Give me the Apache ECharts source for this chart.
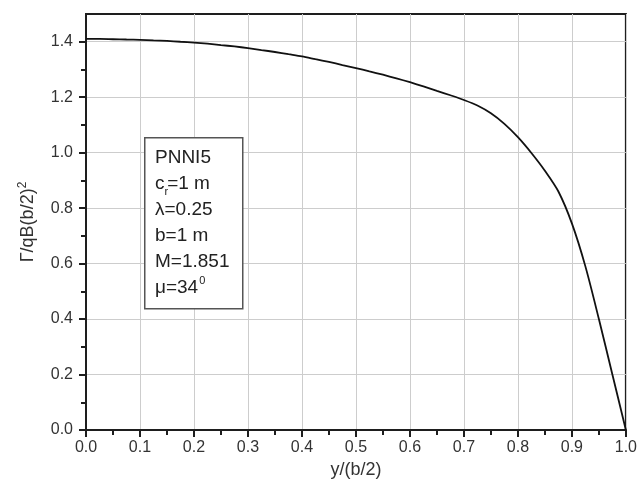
<!DOCTYPE html>
<html>
<head>
<meta charset="utf-8">
<script src="https://cdn.jsdelivr.net/npm/echarts@6/dist/echarts.min.js"></script>
<style>
  html, body { margin: 0; padding: 0; background: #fff; }
  #chart { width: 640px; height: 494px; }
</style>
</head>
<body>
<div id="chart"></div>
<script>
// Spanwise station y/(b/2)
const spanPos = [
  0, 0.025, 0.05, 0.075, 0.1, 0.125, 0.15, 0.175, 0.2, 0.225,
  0.25, 0.275, 0.3, 0.325, 0.35, 0.375, 0.4, 0.425, 0.45, 0.475,
  0.5, 0.525, 0.55, 0.575, 0.6, 0.625, 0.65, 0.675, 0.7, 0.725,
  0.75, 0.775, 0.8, 0.825, 0.85, 0.875, 0.9, 0.925, 0.95, 0.975, 1.0
];
// Non-dimensional circulation Γ/qB(b/2)^2
const circulation = [
  1.410, 1.410, 1.409, 1.408, 1.407, 1.405, 1.403, 1.400, 1.397, 1.393,
  1.388, 1.383, 1.377, 1.370, 1.363, 1.355, 1.347, 1.337, 1.327, 1.316,
  1.305, 1.293, 1.281, 1.268, 1.254, 1.239, 1.223, 1.207, 1.190, 1.170,
  1.142, 1.104, 1.056, 0.999, 0.935, 0.860, 0.745, 0.590, 0.400, 0.200, 0.0
];

const xMajorTicks = [0, 0.1, 0.2, 0.3, 0.4, 0.5, 0.6, 0.7, 0.8, 0.9, 1.0];
const xMinorTicks = [0.05, 0.15, 0.25, 0.35, 0.45, 0.55, 0.65, 0.75, 0.85, 0.95];
const yMajorTicks = [0, 0.2, 0.4, 0.6, 0.8, 1.0, 1.2, 1.4];
const yMinorTicks = [0.1, 0.3, 0.5, 0.7, 0.9, 1.1, 1.3];

// Case parameters shown in the legend box: [main text, small text, raised?, trailing text]
const infoLines = [
  ['PNNI5', '', false, ''],
  ['c', 'r', false, '=1 m'],
  ['λ=0.25', '', false, ''],
  ['b=1 m', '', false, ''],
  ['M=1.851', '', false, ''],
  ['μ=34', '0', true, '']
];

const FONT = '"Liberation Sans", Arial, sans-serif';
const AXIS_COLOR = '#1e1e1e';
const TEXT_COLOR = '#333';
const GRID_COLOR = '#cdcdcd';

const chart = echarts.init(document.getElementById('chart'), null, { renderer: 'canvas' });
const fmt = v => Number(v).toFixed(1);

// Text measuring helper for placing sub/superscripts in the parameter box
const measureCtx = document.createElement('canvas').getContext('2d');
function textWidth(str, size) {
  measureCtx.font = size + 'px ' + FONT;
  return measureCtx.measureText(str).width;
}

const boxLeft = 144, boxTop = 137, boxW = 98, boxH = 171;
const lineX = 155, lineY0 = 157.5, lineStep = 26;
const mainSize = 19, smallSize = 11;

const graphics = [{
  type: 'rect',
  left: boxLeft, top: boxTop, z: 50,
  shape: { width: boxW, height: boxH },
  style: { fill: '#fff', stroke: '#555', lineWidth: 1.5 }
}];
infoLines.forEach((parts, i) => {
  const [main, small, raised, tail] = parts;
  const y = lineY0 + i * lineStep;
  graphics.push({
    type: 'text', x: lineX, y: y, z: 51,
    style: { text: main, font: mainSize + 'px ' + FONT, fill: '#222', verticalAlign: 'middle' }
  });
  let x = lineX + textWidth(main, mainSize);
  if (small) {
    graphics.push({
      type: 'text', x: x + (raised ? 1 : 0), y: raised ? y - 7 : y + 8, z: 51,
      style: { text: small, font: smallSize + 'px ' + FONT, fill: '#222', verticalAlign: 'middle' }
    });
    x += textWidth(small, smallSize) - (raised ? 0 : 1);
  }
  if (tail) {
    graphics.push({
      type: 'text', x: x, y: y, z: 51,
      style: { text: tail, font: mainSize + 'px ' + FONT, fill: '#222', verticalAlign: 'middle' }
    });
  }
});

chart.setOption({
  animation: false,
  backgroundColor: '#fff',
  textStyle: { fontFamily: FONT },
  grid: {
    left: 86, right: 11, top: 14, bottom: 64,
    show: true, borderColor: AXIS_COLOR, borderWidth: 2, backgroundColor: 'transparent'
  },
  xAxis: [{
    type: 'value', min: 0, max: 1, interval: 0.05,
    name: 'y/(b/2)', nameLocation: 'middle', nameGap: 29,
    nameTextStyle: { fontSize: 18, color: TEXT_COLOR, fontFamily: FONT },
    axisLine: { show: true, lineStyle: { color: AXIS_COLOR, width: 2 } },
    axisTick: { show: true, customValues: xMajorTicks, length: 7, inside: false, lineStyle: { color: AXIS_COLOR, width: 2 } },
    axisLabel: { customValues: xMajorTicks, formatter: fmt, fontSize: 16, color: TEXT_COLOR, margin: 10, fontFamily: FONT },
    splitLine: { show: true, lineStyle: { color: GRID_COLOR, width: 1 } }
  }, {
    type: 'value', min: 0, max: 1, position: 'bottom',
    axisLine: { show: false },
    axisTick: { show: true, customValues: xMinorTicks, length: 5, inside: false, lineStyle: { color: AXIS_COLOR, width: 2 } },
    axisLabel: { show: false },
    splitLine: { show: false }
  }],
  yAxis: [{
    type: 'value', min: 0, max: 1.5, interval: 0.1,
    name: 'Γ/qB(b/2){sup|2}', nameLocation: 'middle', nameGap: 47,
    nameTextStyle: {
      fontSize: 18, color: TEXT_COLOR, fontFamily: FONT,
      rich: { sup: { fontSize: 12, color: TEXT_COLOR, fontFamily: FONT, verticalAlign: 'top', padding: [0, 0, 10, 0] } }
    },
    axisLine: { show: true, lineStyle: { color: AXIS_COLOR, width: 2 } },
    axisTick: { show: true, customValues: yMajorTicks, length: 7, inside: false, lineStyle: { color: AXIS_COLOR, width: 2 } },
    axisLabel: { customValues: yMajorTicks, formatter: fmt, fontSize: 16, color: TEXT_COLOR, margin: 13, fontFamily: FONT },
    splitLine: { show: true, lineStyle: { color: GRID_COLOR, width: 1 } }
  }, {
    type: 'value', min: 0, max: 1.5, position: 'left',
    axisLine: { show: false },
    axisTick: { show: true, customValues: yMinorTicks, length: 5, inside: false, lineStyle: { color: AXIS_COLOR, width: 2 } },
    axisLabel: { show: false },
    splitLine: { show: false }
  }],
  series: [{
    type: 'line',
    xAxisIndex: 0, yAxisIndex: 0,
    data: spanPos.map((x, i) => [x, circulation[i]]),
    smooth: 0.3,
    showSymbol: false,
    lineStyle: { color: '#111', width: 1.8 },
    z: 10
  }],
  graphic: graphics
});
</script>
</body>
</html>
